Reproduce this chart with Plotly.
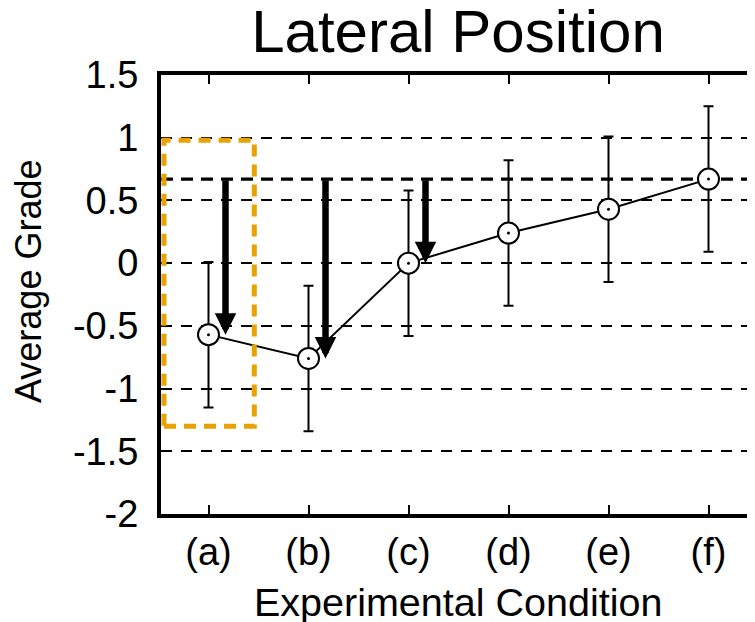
import plotly.graph_objects as go

# ---- data ----
conditions = ["(a)", "(b)", "(c)", "(d)", "(e)", "(f)"]
avg_grade = [-0.57, -0.76, 0.0, 0.24, 0.43, 0.67]
grade_err = [0.58, 0.58, 0.58, 0.58, 0.58, 0.58]
y_tick_vals = [-2, -1.5, -1, -0.5, 0, 0.5, 1, 1.5]
y_tick_text = ["-2", "-1.5", "-1", "-0.5", "0", "0.5", "1", "1.5"]
arrow_targets = ["(a)", "(b)", "(c)"]          # arrows from reference level (f) down to these
highlight_cat = "(a)"
highlight_y = (-1.30, 0.98)

FONT = "Liberation Sans, Arial, sans-serif"
xs = list(range(len(conditions)))
ref_level = avg_grade[-1]

fig = go.Figure()

# connecting line + error bars
fig.add_trace(go.Scatter(
    x=xs, y=avg_grade, mode="lines",
    line=dict(color="black", width=2),
    error_y=dict(type="data", array=grade_err, visible=True,
                 color="black", thickness=2, width=5),
    showlegend=False, hoverinfo="skip"))
# open circles
fig.add_trace(go.Scatter(
    x=xs, y=avg_grade, mode="markers",
    marker=dict(symbol="circle", size=21, color="white",
                line=dict(color="black", width=2)),
    showlegend=False))
# centre dots
fig.add_trace(go.Scatter(
    x=xs, y=avg_grade, mode="markers",
    marker=dict(symbol="circle", size=3, color="black"),
    showlegend=False, hoverinfo="skip"))

# reference level dashed line
fig.add_shape(type="line", xref="paper", yref="y", x0=0, x1=1,
              y0=ref_level, y1=ref_level, layer="below",
              line=dict(color="black", width=3.3, dash="12px,8px"))

# highlight box
hi = conditions.index(highlight_cat)
fig.add_shape(type="rect", xref="x", yref="y",
              x0=hi - 0.445, x1=hi + 0.458,
              y0=highlight_y[0], y1=highlight_y[1],
              line=dict(color="#E8A202", width=5, dash="12px,8px"))

# arrows
for cat in arrow_targets:
    i = conditions.index(cat)
    fig.add_annotation(
        x=i + 0.17, y=avg_grade[i], ax=i + 0.17, ay=ref_level,
        xref="x", yref="y", axref="x", ayref="y",
        text="", showarrow=True, arrowhead=2, arrowsize=0.66,
        arrowwidth=6.5, arrowcolor="black", standoff=0, startstandoff=0)

# axis labels
fig.add_annotation(text="Average Grade", xref="paper", yref="paper",
                   x=-0.222, y=0.531, xanchor="center", yanchor="middle",
                   textangle=-90, showarrow=False,
                   font=dict(family=FONT, size=36, color="black"))
fig.add_annotation(text="Experimental Condition", xref="paper", yref="paper",
                   x=0.5, y=-0.2, xanchor="center", yanchor="middle",
                   showarrow=False,
                   font=dict(family=FONT, size=39.5, color="black"))

# page body has an 8px default margin, so the figure is sized to fit the window
W, H = 747, 614
fig.update_layout(
    width=W, height=H,
    margin=dict(l=153, r=0, t=67, b=108, pad=0, autoexpand=False),
    paper_bgcolor="white", plot_bgcolor="white",
    font=dict(family=FONT, color="black"),
    title=dict(text="Lateral Position", x=0.5, xref="paper", xanchor="center",
               y=1 - 23 / H, yref="container", yanchor="middle",
               automargin=False,
               font=dict(family=FONT, size=60, color="black")),
    xaxis=dict(range=[-0.475, 5.465], tickmode="array", tickvals=xs,
               ticktext=conditions, ticks="inside", ticklen=9, tickwidth=1.5,
               tickcolor="black", showgrid=False, zeroline=False,
               showline=True, linewidth=4, linecolor="black", mirror="ticks",
               tickfont=dict(family=FONT, size=38, color="black"),
               ticklabelstandoff=1, automargin=False),
    yaxis=dict(range=[-2, 1.5], tickmode="array", tickvals=y_tick_vals,
               ticktext=y_tick_text, ticks="inside", ticklen=9, tickwidth=1.5,
               tickcolor="black", showgrid=True, gridcolor="black", gridwidth=2,
               griddash="11px,9px", zeroline=False,
               showline=True, linewidth=4, linecolor="black", mirror=False,
               tickfont=dict(family=FONT, size=38, color="black"),
               ticklabelstandoff=11, automargin=False),
)

fig.write_html("out.html")
